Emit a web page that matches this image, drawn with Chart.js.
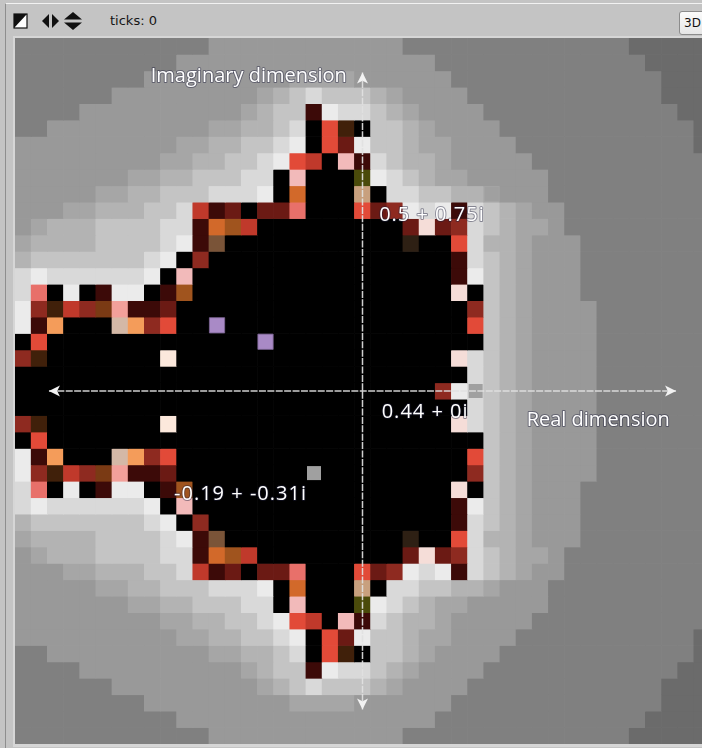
<!DOCTYPE html>
<html>
<head>
<meta charset="utf-8">
<title>Mandelbrot</title>
<script src="https://cdn.jsdelivr.net/npm/chart.js@4.4.1/dist/chart.umd.min.js"></script>
<style>
  html, body { margin: 0; padding: 0; width: 702px; height: 748px; overflow: hidden; background: #c4c4c4; }
  #frame { position: absolute; left: 5px; top: 3px; width: 760px; height: 800px;
           border-left: 1px solid #8e8e8e; border-top: 1px solid #f2f2f2; }
  #icons { position: absolute; left: 13px; top: 12px; }
  #ticks { position: absolute; left: 110px; top: 13px; font: 13px "DejaVu Sans", sans-serif; color: #151515; }
  #btn3d { position: absolute; left: 679px; top: 11px; width: 34px; height: 24px; box-sizing: border-box;
           background: linear-gradient(#fbfbfb, #e6e6e6); border: 1px solid #8c8c8c; border-radius: 3px;
           font: 12px "DejaVu Sans", sans-serif; line-height: 22px; padding-left: 4px; color: #111; }
  #viewBorder { position: absolute; left: 13px; top: 36px; width: 700px; height: 711px; background: #d6d6d6; }
  #view { position: absolute; left: 15px; top: 38px; }
</style>
</head>
<body>
<div id="frame"></div>
<svg id="icons" width="75" height="20" viewBox="0 0 75 20">
  <rect x="1" y="2" width="13" height="14" fill="#fff" stroke="#111" stroke-width="1.2"/>
  <polygon points="1,16 14,2 1,2" fill="#111"/>
  <polygon points="29,9 36,2 36,16" fill="#111"/>
  <polygon points="46,9 39,2 39,16" fill="#111"/>
  <polygon points="60,0 69,7.5 51,7.5" fill="#111"/>
  <polygon points="60,18 69,10.5 51,10.5" fill="#111"/>
</svg>
<div id="ticks">ticks: 0</div>
<div id="btn3d">3D</div>
<div id="viewBorder"></div>
<canvas id="view" width="695" height="706"></canvas>
<script>
// Patch columns (pxcor) and rows (pycor, top to bottom)
const pxcors = [-21,-20,-19,-18,-17,-16,-15,-14,-13,-12,-11,-10,-9,-8,-7,-6,-5,-4,-3,-2,-1,
                0,1,2,3,4,5,6,7,8,9,10,11,12,13,14,15,16,17,18,19,20,21];
const pycors = [21,20,19,18,17,16,15,14,13,12,11,10,9,8,7,6,5,4,3,2,1,
                0,-1,-2,-3,-4,-5,-6,-7,-8,-9,-10,-11,-12,-13,-14,-15,-16,-17,-18,-19,-20,-21];

// Escape classes per patch, one run-length encoded row per pycor (letter + repeat count)
const patchRows = [
  "b12 c12 b14 a5",
  "b10 c16 b13 a4",
  "b8 c9 d4 c6 b13 a3",
  "b6 c9 d e f g f3 e d c4 b12 a3",
  "b4 c10 d e f2 x h g2 f e d c4 b12 a2",
  "b2 c10 d2 e2 f g K R w K f2 e d c4 b12 a",
  "c10 d2 e2 f2 g h K R n h f2 e d2 c4 b11 a",
  "c9 d2 e2 f2 g h R r K p x g f e2 d c5 b11",
  "c7 d2 e2 f3 g2 K p K3 v h g f e d2 c5 b10",
  "c5 d2 e2 f3 g3 h K o K3 t K g2 f2 e2 d c3 b10",
  "c3 d2 e3 f2 g r x n K n2 s K3 R n m h g h x g f e d c2 b9",
  "c d e3 f4 g2 x o B r K9 n q n m g f e d2 c b9",
  "d e4 f4 g h x u K11 z K2 R g e2 d c3 b8",
  "e f7 g h K m K15 x g f e d c3 b8",
  "g h g6 h K p K16 x h f e d c3 b8",
  "g s K h K x h2 K x B K16 q K f e d c3 b8",
  "h m w r m k y x2 n K18 m f e d c4 b7",
  "h x O K3 j O m R K18 R f e d c4 b7",
  "K R K27 f e d c4 b7",
  "m w K7 Q K17 q g f e d c4 b7",
  "K28 g f e d c4 b7",
  "K26 m h g f e d c4 b7",
  "K28 g f e d c4 b7",
  "m w K7 Q K17 q g f e d c4 b7",
  "K R K27 f e d c4 b7",
  "h x O K3 j O m R K18 R f e d c4 b7",
  "h m w r m k y x2 n K18 m f e d c4 b7",
  "g s K h K x h2 K x B K16 q K f e d c3 b8",
  "g h g6 h K p K16 x h f e d c3 b8",
  "e f7 g h K m K15 x g f e d c3 b8",
  "d e4 f4 g h x u K11 z K2 R g e2 d c3 b8",
  "c d e3 f4 g2 x o B r K9 n q n m g f e d2 c b9",
  "c3 d2 e3 f2 g r x n K n2 s K3 R n m h g h x g f e d c2 b9",
  "c5 d2 e2 f3 g3 h K o K3 t K g2 f2 e2 d c3 b10",
  "c7 d2 e2 f3 g2 K p K3 v h g f e d2 c5 b10",
  "c9 d2 e2 f2 g h R r K p x g f e2 d c5 b11",
  "c10 d2 e2 f2 g h K R n h f2 e d2 c4 b11 a",
  "b2 c10 d2 e2 f g K R w K f2 e d c4 b12 a",
  "b4 c10 d e f2 x h g2 f e d c4 b12 a2",
  "b6 c9 d e f g f3 e d c4 b12 a3",
  "b8 c9 d4 c6 b13 a3",
  "b10 c16 b13 a4",
  "b12 c12 b14 a5"
];

// Colour of each escape class
const palette = {
  a: '#6b6b6b', b: '#808080', c: '#999999', d: '#a6a6a6',
  e: '#b3b3b3', f: '#c4c4c4', g: '#d9d9d9', h: '#ebebeb',
  K: '#000000', R: '#e24a38', r: '#c0392b', m: '#8e2a20', n: '#6b1a14',
  x: '#3c0a08', w: '#40200a', o: '#d2692a', O: '#f49c5a', B: '#a0541e',
  u: '#7a5438', k: '#7a3a14', s: '#e8706a', p: '#f2baba', y: '#f2a09a',
  q: '#f5ddd8', Q: '#fce8dc', t: '#c8a07e', j: '#d4b8a6', v: '#4a4a0a', z: '#2e2014'
};

// Labelled sample points in the complex plane (patch coordinates)
const markerX = [7, 8, -3];
const markerY = [0, 12, -5];
const markerLabels = ['0.44 + 0i', '0.5 + 0.75i', '-0.19 + -0.31i'];

// Extra unlabelled walkers
const walkerX = [-9, -6];
const walkerY = [4, 3];

function decodeRow(rle) {
  const out = [];
  rle.split(' ').forEach(tok => {
    const n = tok.length > 1 ? parseInt(tok.slice(1), 10) : 1;
    for (let i = 0; i < n; i++) out.push(tok[0]);
  });
  return out;
}

const rowDatasets = patchRows.map((rle, i) => {
  const q = pycors[i];
  const classes = decodeRow(rle);
  return {
    type: 'bar',
    data: pxcors.map(() => [q - 0.5, q + 0.5]),
    backgroundColor: classes.map(k => palette[k]),
    borderWidth: 0,
    order: 2
  };
});

const axesOverlay = {
  id: 'axesOverlay',
  afterDatasetsDraw(chart) {
    const { ctx } = chart;
    const xs = chart.scales.x, ys = chart.scales.y;
    const step = xs.getPixelForValue(1) - xs.getPixelForValue(0);
    const px = p => xs.getPixelForValue(0) + (p - pxcors[0]) * step;
    const py = q => ys.getPixelForValue(q);

    ctx.save();
    // axis lines
    ctx.strokeStyle = 'rgba(225,225,225,0.92)';
    ctx.lineWidth = 1.5;
    ctx.setLineDash([7, 1.4]);
    ctx.beginPath();
    ctx.moveTo(px(-19.4), py(0)); ctx.lineTo(px(19.4), py(0));
    ctx.moveTo(px(0), py(19.4)); ctx.lineTo(px(0), py(-19.4));
    ctx.stroke();
    ctx.setLineDash([]);

    // arrow heads
    ctx.fillStyle = '#f2f2f2';
    const head = (x, y, dx, dy) => {
      const L = 11, W = 5.5;
      ctx.beginPath();
      ctx.moveTo(x, y);
      ctx.lineTo(x - dx * L - dy * W, y - dy * L + dx * W);
      ctx.lineTo(x - dx * L * 0.75, y - dy * L * 0.75);
      ctx.lineTo(x - dx * L + dy * W, y - dy * L - dx * W);
      ctx.closePath();
      ctx.fill();
    };
    head(px(19.4), py(0), 1, 0);
    head(px(-19.4), py(0), -1, 0);
    head(px(0), py(19.4), 0, -1);
    head(px(0), py(-19.4), 0, 1);

    // labels: white text with a thin dark halo
    ctx.font = '20px "Open Sans", "DejaVu Sans", sans-serif';
    ctx.textAlign = 'right';
    ctx.textBaseline = 'alphabetic';
    ctx.lineJoin = 'round';
    const label = (txt, x, y) => {
      ctx.strokeStyle = 'rgba(30,30,60,0.45)';
      ctx.lineWidth = 2;
      ctx.strokeText(txt, x, y);
      ctx.fillStyle = '#ffffff';
      ctx.fillText(txt, x, y);
    };
    label('Imaginary dimension', px(-0.97), py(18.84));
    label('Real dimension', px(19.01), py(-2.16));
    ctx.letterSpacing = '1px';
    markerLabels.forEach((txt, i) => {
      label(txt, px(markerX[i] - 0.5) + 1, py(markerY[i] - 0.5) + 19);
    });
    ctx.restore();
  }
};

new Chart(document.getElementById('view'), {
  type: 'bar',
  data: {
    labels: pxcors,
    datasets: [
      {
        type: 'scatter',
        data: markerX.map((p, i) => ({ x: p, y: markerY[i] })),
        pointStyle: 'rect', pointRadius: 9.9,
        backgroundColor: '#a0a0a0', borderWidth: 0, order: 0
      },
      {
        type: 'scatter',
        data: walkerX.map((p, i) => ({ x: p, y: walkerY[i] })),
        pointStyle: 'rect', pointRadius: 10.8,
        backgroundColor: '#a98ac6', borderColor: '#7e6696', borderWidth: 0.8, order: 0
      },
      ...rowDatasets
    ]
  },
  options: {
    responsive: false,
    animation: false,
    devicePixelRatio: 1,
    events: [],
    layout: { padding: 0, autoPadding: false },
    plugins: { legend: { display: false }, tooltip: { enabled: false } },
    datasets: { bar: { grouped: false, categoryPercentage: 1, barPercentage: 1, borderSkipped: false } },
    scales: {
      x: { type: 'category', display: false, offset: true, grid: { display: false } },
      y: { type: 'linear', display: false, min: -21.5, max: 21.5 }
    }
  },
  plugins: [axesOverlay]
});
</script>
</body>
</html>
